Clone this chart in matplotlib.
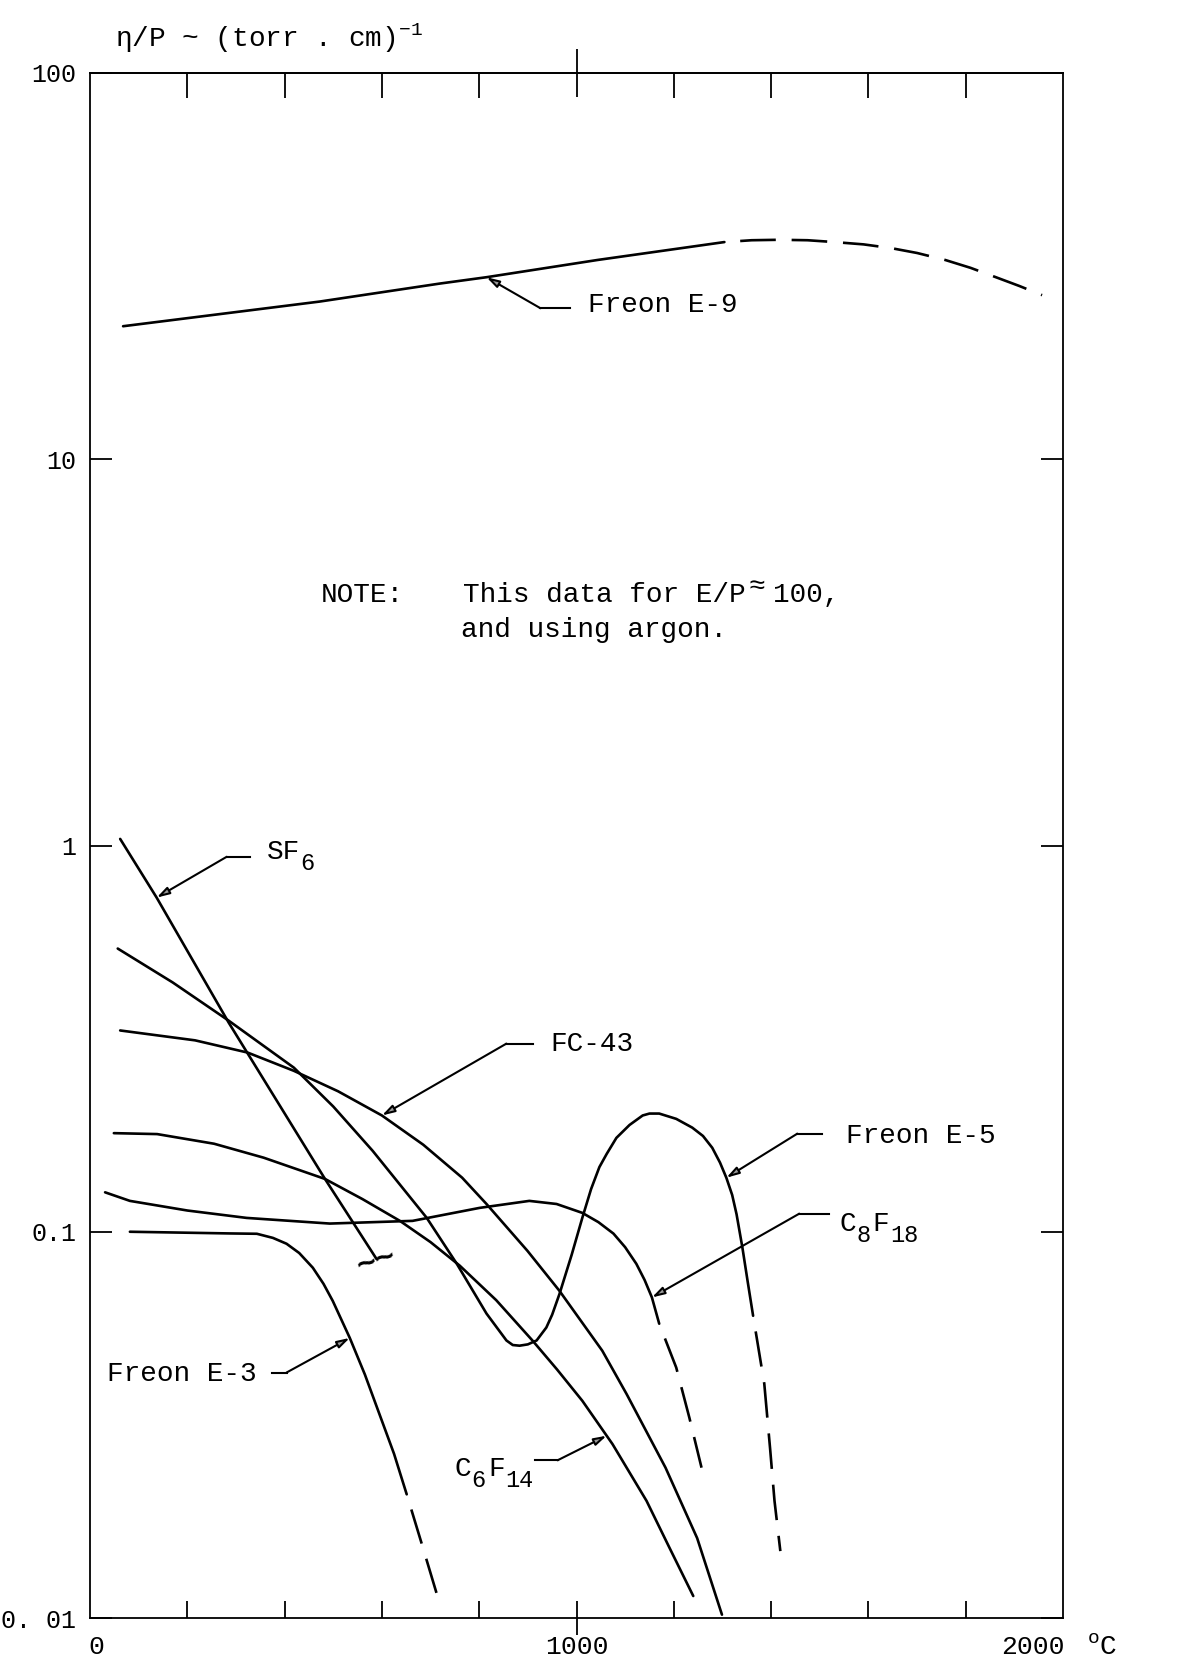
import numpy as np
import matplotlib.pyplot as plt
from matplotlib.ticker import FixedLocator, NullLocator, NullFormatter

plt.rcParams['font.family'] = ['Liberation Mono', 'DejaVu Sans']
plt.rcParams['mathtext.default'] = 'regular'

# temperature (deg C) vs eta/P (torr cm)^-1
e9_x = [68, 472, 719, 815, 1043, 1304]
e9_y = [22.1, 25.6, 28.5, 29.6, 32.8, 36.5]
e9_dash_x = [1304, 1360, 1417, 1475, 1530, 1590, 1647, 1700, 1758, 1810, 1862, 1910, 1957]
e9_dash_y = [36.5, 36.9, 37.0, 36.9, 36.5, 36.0, 35.2, 34.2, 32.8, 31.3, 29.6, 28.1, 26.6]

sf6_x = [62, 137, 285, 483, 589]
sf6_y = [1.04, 0.733, 0.348, 0.137, 0.085]

e5_x = [57, 170, 285, 419, 500, 581, 692, 754, 815, 856, 869, 883, 900, 918, 938, 950,
        965, 990, 1012, 1030, 1047, 1062, 1082, 1109, 1136, 1150, 1170, 1205, 1238, 1260,
        1279, 1295, 1308, 1320, 1329, 1341, 1352, 1363]
e5_y = [0.541, 0.442, 0.352, 0.266, 0.211, 0.162, 0.1087, 0.0826, 0.0614, 0.0523, 0.0509,
        0.0507, 0.0511, 0.0523, 0.0565, 0.0610, 0.069, 0.0871, 0.1087, 0.129, 0.147, 0.159,
        0.175, 0.189, 0.200, 0.2023, 0.2023, 0.196, 0.186, 0.177, 0.165, 0.151, 0.138,
        0.1245, 0.111, 0.091, 0.0741, 0.0606]
e5_dash_x = [1363, 1386, 1398, 1407, 1419]
e5_dash_y = [0.0606, 0.0404, 0.0274, 0.0201, 0.0149]

fc43_x = [62, 216, 324, 419, 510, 600, 685, 765, 815, 899, 965, 1053, 1103, 1183, 1248, 1299]
fc43_y = [0.332, 0.313, 0.291, 0.261, 0.231, 0.200, 0.168, 0.138, 0.118, 0.0893, 0.0703,
          0.0492, 0.038, 0.0245, 0.0161, 0.0102]

c6f14_x = [49, 138, 255, 357, 483, 560, 637, 700, 760, 835, 910, 960, 1012, 1074, 1144, 1190, 1240]
c6f14_y = [0.180, 0.179, 0.169, 0.1555, 0.137, 0.1215, 0.1067, 0.0940, 0.0817, 0.0665,
           0.0522, 0.0440, 0.0365, 0.0282, 0.0201, 0.0153, 0.0114]

c8f18_x = [31, 82, 200, 322, 493, 663, 801, 903, 959, 1012, 1045, 1076, 1100, 1123, 1140,
           1155, 1170]
c8f18_y = [0.1265, 0.1202, 0.1135, 0.1086, 0.105, 0.1067, 0.1153, 0.1202, 0.118, 0.1119,
           0.1059, 0.0989, 0.0912, 0.0826, 0.0750, 0.0676, 0.0578]
c8f18_dash_x = [1170, 1205, 1232, 1257]
c8f18_dash_y = [0.0578, 0.0445, 0.033, 0.0245]

e3_x = [82, 287, 343, 376, 404, 430, 458, 480, 499, 534, 565, 595, 625, 651]
e3_y = [0.100, 0.099, 0.0988, 0.0964, 0.0931, 0.0881, 0.0807, 0.0733, 0.0662, 0.0531,
        0.0427, 0.0337, 0.0266, 0.0209]
e3_dash_x = [651, 683, 715]
e3_dash_y = [0.0209, 0.0154, 0.0113]

W, H = 1186, 1672
fig = plt.figure(figsize=(W / 100, H / 100), dpi=100, facecolor='white')
ax = fig.add_axes([90 / W, 1 - 1618 / H, (1063 - 90) / W, (1618 - 73) / H])

lw = 1.9
dash = (13.5, 6)
solid = dict(color='black', lw=lw, solid_capstyle='round', solid_joinstyle='round')
dashed = dict(color='black', lw=lw, ls=(dash[0], dash), dash_capstyle='butt')

ax.plot(e9_x, e9_y, **solid)
ax.plot(e9_dash_x, e9_dash_y, **dashed)
ax.plot(sf6_x, sf6_y, **solid)
ax.plot(e5_x, e5_y, **solid)
ax.plot(e5_dash_x, e5_dash_y, **dashed)
ax.plot(fc43_x, fc43_y, **solid)
ax.plot(c6f14_x, c6f14_y, **solid)
ax.plot(c8f18_x, c8f18_y, **solid)
ax.plot(c8f18_dash_x, c8f18_dash_y, **dashed)
ax.plot(e3_x, e3_y, **solid)
ax.plot(e3_dash_x, e3_dash_y, **dashed)

# squiggle where SF6 data stops
ax.text(sf6_x[-1], sf6_y[-1] * 0.985, '~~', ha='center', va='center', fontsize=24,
        rotation=18, fontweight='bold')

ax.set_xlim(0, 2000)
ax.set_yscale('log')
ax.set_ylim(0.01, 100)


def on_curve(xs, ys, x):
    return 10 ** np.interp(x, xs, np.log10(ys))


def put_label(x, y, parts, fs=20, sub_fs=17, drop=8):
    # typewriter style: monospace advance, subscripts dropped half a line
    off = 0.0
    for piece, sub in parts:
        size = sub_fs if sub else fs
        ax.annotate(piece, xy=(x, y), xytext=(off, -drop if sub else 0),
                    textcoords='offset points', fontsize=size, va='baseline', ha='left')
        off += 0.6 * size * len(piece) + (1.5 if sub else 0.5)


# label pieces, curve, tip x, kink (x, y), stub end x, text (x, y)
labels = [
    ([('SF', 0), ('6', 1)], sf6_x, sf6_y, 137, (281, 0.935), 329, (363, 0.925)),
    ([('FC-43', 0)], fc43_x, fc43_y, 600, (856, 0.307), 911, (947, 0.294)),
    ([('Freon E-5', 0)], e5_x, e5_y, 1308, (1454, 0.1795), 1505, (1554, 0.170)),
    ([('C', 0), ('8', 1), ('F', 0), ('18', 1)], c8f18_x, c8f18_y, 1155, (1458, 0.1114), 1520,
     (1540, 0.1007)),
    ([('Freon E-3', 0)], e3_x, e3_y, 534, (404, 0.0432), 374, (35, 0.0411)),
    ([('C', 0), ('6', 1), ('F', 0), ('14', 1)], c6f14_x, c6f14_y, 1062, (961, 0.0256), 914,
     (749, 0.0233)),
    ([('Freon E-9', 0)], e9_x, e9_y, 815, (926, 24.6), 986, (1023, 24.0)),
]
for parts, cx, cy, tx, kink, stub, pos in labels:
    ax.annotate('', xy=(tx, on_curve(cx, cy, tx)), xytext=kink,
                arrowprops=dict(arrowstyle='-|>,head_length=0.75,head_width=0.22',
                                color='black', fc='0.6', lw=1.5,
                                shrinkA=0, shrinkB=0))
    ax.plot([kink[0], stub], [kink[1], kink[1]], color='black', lw=1.5)
    put_label(pos[0], pos[1], parts)

# axes and ticks
for s in ax.spines.values():
    s.set_linewidth(1.3)
ax.set_yticks([0.01, 0.1, 1, 10, 100])
ax.set_yticklabels(['0. 01', '0.1', '1', '10', '100'])
ax.yaxis.set_minor_locator(NullLocator())
ax.tick_params(axis='y', which='major', direction='in', length=16, width=1.3,
               left=True, right=True, labelsize=18, pad=10)

minor_x = [200, 400, 600, 800, 1200, 1400, 1600, 1800]
ax.xaxis.set_major_locator(FixedLocator([1000]))
ax.xaxis.set_minor_locator(FixedLocator(minor_x))
ax.xaxis.set_major_formatter(NullFormatter())
ax.tick_params(axis='x', which='major', direction='inout', length=24, width=1.3)
ax.tick_params(axis='x', which='minor', direction='in', length=12, width=1.3)

top = ax.secondary_xaxis('top')
top.xaxis.set_major_locator(FixedLocator([1000]))
top.xaxis.set_minor_locator(FixedLocator(minor_x))
top.xaxis.set_major_formatter(NullFormatter())
top.tick_params(axis='x', which='major', direction='inout', length=34, width=1.3)
top.tick_params(axis='x', which='minor', direction='in', length=18, width=1.3)
top.spines['top'].set_linewidth(1.3)

xt = ax.get_xaxis_transform()
ax.text(12, -0.019, '0', transform=xt, ha='center', va='center', fontsize=19)
ax.text(1000, -0.019, '1000', transform=xt, ha='center', va='center', fontsize=19)
ax.text(2003, -0.019, '2000', transform=xt, ha='right', va='center', fontsize=19)
ax.text(2050, -0.019, '$^{o}$C', transform=xt, ha='left', va='center', fontsize=20,
        clip_on=False)

fig.text(115 / W, 1 - 47 / H, 'η/P ~ (torr . cm)$^{-1}$', fontsize=20, va='baseline')

fig.text(321 / W, 1 - 602 / H, 'NOTE:', fontsize=20, va='baseline')
fig.text(463 / W, 1 - 602 / H, 'This data for E/P', fontsize=20, va='baseline')
fig.text(748 / W, 1 - 594 / H, '≈', fontsize=20, va='baseline')
fig.text(773 / W, 1 - 602 / H, '100,', fontsize=20, va='baseline')
fig.text(461 / W, 1 - 637 / H, 'and using argon.', fontsize=20, va='baseline')

fig.savefig('out.png', dpi=100, facecolor='white')
